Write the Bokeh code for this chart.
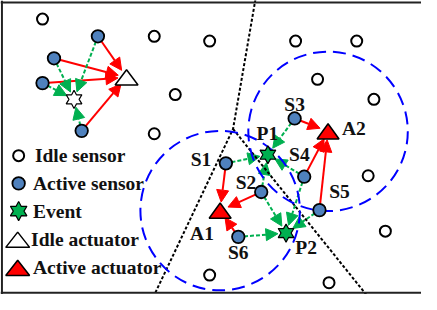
import numpy as np
from bokeh.plotting import figure
from bokeh.models import Range1d, Arrow, NormalHead, ColumnDataSource, Span
from bokeh.embed import file_html
from bokeh.resources import INLINE
from bokeh.core.properties import value

# ---------------- data (coordinates in picture units, y pointing down) ----------------
idle_x = [47, 164, 222, 186, 164, 312, 376, 335, 394, 388, 406, 347, 222]
idle_y = [21, 39, 44, 100, 141, 44, 44, 84, 105, 185, 243, 297, 289]

cluster_x = [105, 59, 47, 88]
cluster_y = [39, 62, 88, 138]
idle_act_x = [135]
idle_act_y = [82]
idle_evt_x = [80]
idle_evt_y = [105]

sensor_names = ["S1", "S2", "S3", "S4", "S5", "S6"]
sensor_x = [239, 276, 311, 321, 337, 252]
sensor_y = [172, 202, 125, 186, 221, 249]

actuator_names = ["A1", "A2"]
actuator_x = [233, 346]
actuator_y = [221.5, 138.5]

event_names = ["P1", "P2"]
event_x = [283, 302]
event_y = [163, 245]

coverage_radius = 83.5

red_links = [("S1", "A1"), ("S2", "A1"), ("S6", "A1"),
             ("S3", "A2"), ("S4", "A2"), ("S5", "A2")]
green_links = [("S1", "P1"), ("S2", "P1"), ("S3", "P1"), ("S4", "P1"),
               ("S2", "P2"), ("S4", "P2"), ("S5", "P2"), ("S6", "P2")]

boundary1_x = [270, 246.5, 163]
boundary1_y = [0, 136, 312]
boundary2_x = [246.5, 388]
boundary2_y = [136, 312]

label_text = ["S1", "S2", "S3", "S4", "S5", "S6", "A1", "A2", "P1", "P2"]
label_x = [213, 260, 311, 316, 358, 252, 214, 373, 282.5, 323]
label_y = [168.5, 192, 110, 162.5, 201.5, 265, 245, 136, 141, 260.5]

legend_text = ["Idle sensor", "Active sensor", "Event", "Idle actuator", "Active actuator"]
legend_text_x = [39, 37, 37, 35, 37]
legend_y = [164, 193, 222, 252, 281.5]
legend_marker_x = [22, 22, 22, 21, 21]

# ---------------- styles ----------------
GREEN = "#00B050"
RED = "#FF0000"
BLUE_FILL = "#4F81BD"
BLUE_LINE = "#0000FF"
FONT = value("Liberation Serif")

W, H = 421, 294
S = 0.955
X0, Y0 = 3, 1.5

p = figure(width=W, height=H,
           x_range=Range1d(X0, X0 + W / S),
           y_range=Range1d(Y0 + H / S, Y0),
           output_backend="svg", toolbar_location=None,
           x_axis_location=None, y_axis_location=None,
           min_border=0)
p.grid.visible = False
p.outline_line_color = None
p.background_fill_color = "white"
p.border_fill_color = "white"

# frame (left, top, bottom)
p.add_layout(Span(location=4.5, dimension="height", line_color="#222222", line_width=2))
p.add_layout(Span(location=3.5, dimension="width", line_color="#222222", line_width=2))
p.add_layout(Span(location=307.5, dimension="width", line_color="#222222", line_width=2))

# boundary dotted lines
p.line(boundary1_x, boundary1_y, line_color="black", line_width=2, line_dash="3 2")
p.line(boundary2_x, boundary2_y, line_color="black", line_width=2, line_dash="3 2")

# coverage circles around the actuators
p.circle(actuator_x, actuator_y, radius=coverage_radius, fill_color=None,
         line_color=BLUE_LINE, line_width=2, line_dash="13 7")


def pos(name):
    if name in sensor_names:
        i = sensor_names.index(name)
        return sensor_x[i], sensor_y[i]
    if name in actuator_names:
        i = actuator_names.index(name)
        return actuator_x[i], actuator_y[i]
    i = event_names.index(name)
    return event_x[i], event_y[i]


def link_data(pairs, start_off, end_off):
    d = dict(x0=[], y0=[], x1=[], y1=[])
    for (ax, ay), (bx, by) in pairs:
        dx, dy = bx - ax, by - ay
        L = np.hypot(dx, dy)
        ux, uy = dx / L, dy / L
        d["x0"].append(ax + ux * start_off)
        d["y0"].append(ay + uy * start_off)
        d["x1"].append(bx - ux * end_off)
        d["y1"].append(by - uy * end_off)
    return ColumnDataSource(d)


def add_arrows(src, color, dash):
    p.add_layout(Arrow(end=NormalHead(size=12, fill_color=color, line_color=color, line_width=1),
                       x_start="x0", y_start="y0", x_end="x1", y_end="y1", source=src,
                       line_color=color, line_width=2, line_dash=dash, level="underlay"))


red_pairs = [(pos(a), pos(b)) for a, b in red_links]
red_pairs += [((cx, cy), (idle_act_x[0], idle_act_y[0])) for cx, cy in zip(cluster_x, cluster_y)]
green_pairs = [(pos(a), pos(b)) for a, b in green_links]
green_pairs += [((cx, cy), (idle_evt_x[0], idle_evt_y[0])) for cx, cy in zip(cluster_x, cluster_y)]

add_arrows(link_data(red_pairs, 6, 9), RED, "solid")
add_arrows(link_data(green_pairs, 6, 8.5), GREEN, "4 2")


def hexagram(cx, cy, R=9.5, r=5.3):
    ang = np.deg2rad(90 + 30 * np.arange(12))
    rad = np.where(np.arange(12) % 2 == 0, R, r)
    return list(cx + rad * np.cos(ang)), list(cy - rad * np.sin(ang))


def triangle(cx, cy, hw=11.5, hh=8):
    return [cx, cx - hw, cx + hw], [cy - hh, cy + hh, cy + hh]


# idle sensors
p.scatter(idle_x, idle_y, size=11, fill_color="white", line_color="black", line_width=2)
# active sensors
p.scatter(cluster_x + sensor_x, cluster_y + sensor_y, size=12.5, fill_color=BLUE_FILL,
          line_color="black", line_width=1.8)

# events
ev_x, ev_y = [], []
for cx, cy in zip(event_x, event_y):
    xs, ys = hexagram(cx, cy)
    ev_x.append(xs); ev_y.append(ys)
p.patches(ev_x, ev_y, fill_color=GREEN, line_color="black", line_width=1.2)
ix, iy = hexagram(idle_evt_x[0], idle_evt_y[0])
p.patches([ix], [iy], fill_color="white", line_color="black", line_width=1.2)

# actuators
ac_x, ac_y = [], []
for cx, cy in zip(actuator_x, actuator_y):
    xs, ys = triangle(cx, cy)
    ac_x.append(xs); ac_y.append(ys)
p.patches(ac_x, ac_y, fill_color=RED, line_color="black", line_width=1.5)
tx, ty = triangle(idle_act_x[0], idle_act_y[0], hw=12)
p.patches([tx], [ty], fill_color="white", line_color="black", line_width=1.5)

# node labels
p.text(label_x, label_y, text=label_text, text_font=FONT, text_font_style="bold",
       text_font_size="19.5px", text_align="center", text_baseline="middle", text_color="#111111")

# legend
p.scatter([legend_marker_x[0]], [legend_y[0]], size=11, fill_color="white", line_color="black", line_width=2)
p.scatter([legend_marker_x[1]], [legend_y[1]], size=12.5, fill_color=BLUE_FILL, line_color="black", line_width=1.8)
hx, hy = hexagram(legend_marker_x[2], legend_y[2], R=10, r=5.6)
p.patches([hx], [hy], fill_color=GREEN, line_color="black", line_width=1.2)
t1x, t1y = triangle(legend_marker_x[3], legend_y[3], hw=12.5)
p.patches([t1x], [t1y], fill_color="white", line_color="black", line_width=1.5)
t2x, t2y = triangle(legend_marker_x[4], legend_y[4], hw=12.5)
p.patches([t2x], [t2y], fill_color=RED, line_color="black", line_width=1.5)
p.text(legend_text_x, legend_y, text=legend_text, text_font=FONT, text_font_style="bold",
       text_font_size="19.5px", text_align="left", text_baseline="middle", text_color="#111111")

open("out.html", "w").write(file_html(p, INLINE))
